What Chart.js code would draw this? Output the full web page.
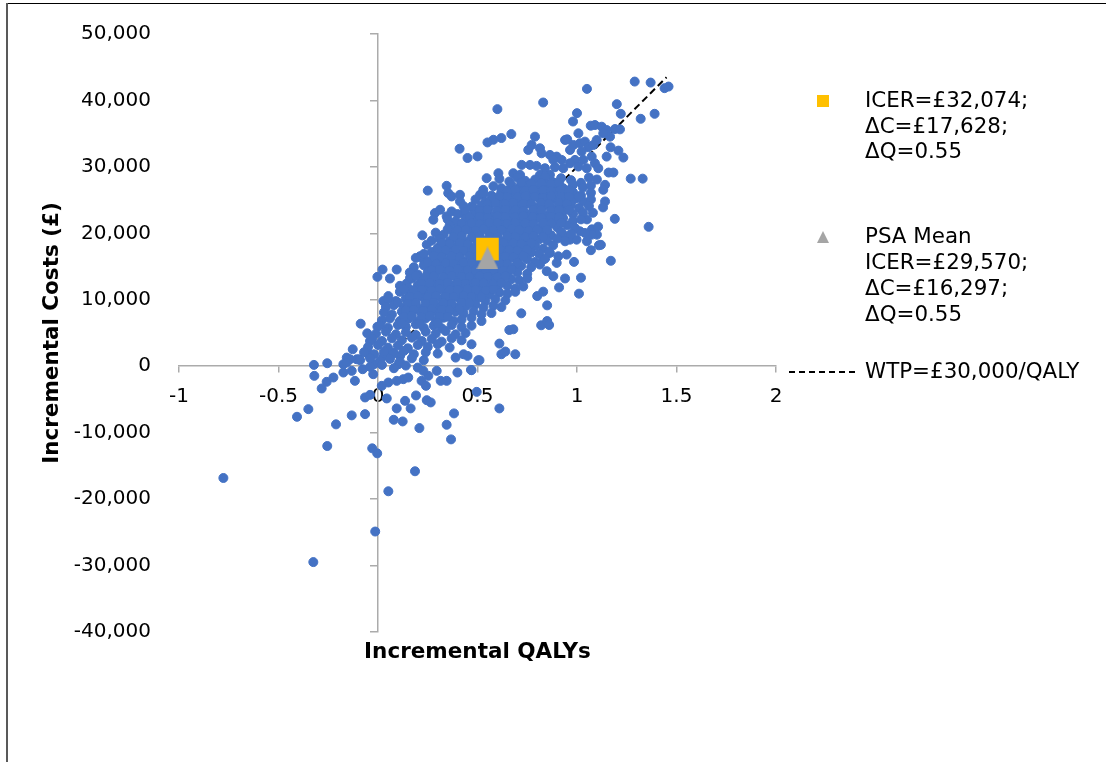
<!DOCTYPE html>
<html><head><meta charset="utf-8">
<script src="https://cdn.jsdelivr.net/npm/chart.js@4.4.1/dist/chart.umd.min.js"></script>
<style>
html,body{margin:0;padding:0;background:#fff;overflow:hidden;width:1106px;height:762px;}
#frameTop{position:absolute;left:6px;top:3px;width:1200px;height:1px;background:#000;}
#frameLeft{position:absolute;left:6px;top:3px;width:2px;height:900px;background:#595959;}
#wrap{position:absolute;left:0;top:0;width:1106px;height:762px;}
</style></head><body>
<div id="frameTop"></div><div id="frameLeft"></div>
<div id="wrap"><canvas id="c" width="1106" height="762"></canvas></div>
<script>
// ---- text ----
const xTitle = 'Incremental QALYs';
const yTitle = 'Incremental Costs (£)';
const icerLabel = ['ICER=£32,074;', 'ΔC=£17,628;', 'ΔQ=0.55'];
const psaMeanLabel = ['PSA Mean', 'ICER=£29,570;', 'ΔC=£16,297;', 'ΔQ=0.55'];
const wtpLabel = ['WTP=£30,000/QALY'];
// ---- axis ranges ----
const xRange = [-1, 2], xStep = 0.5;
const yRange = [-40000, 50000], yStep = 10000;
// ---- summary points ----
const icerQ = [0.55], icerC = [17628];
const psaMeanQ = [0.55], psaMeanC = [16297];
// ---- WTP threshold line ----
const wtpQ = [0, 1.45], wtpC = [0, 43500];
// ---- PSA iterations [incremental QALYs, incremental costs] ----
const psaPoints = [
[1.29,42840],[1.37,42690],[1.44,41850],[1.46,42090],[1.05,41740],[0.83,39690],[0.60,38690],[1.20,39440],[1.22,37990],[1.39,37990],[1.32,37240],[1.00,38090],[0.98,36830],[0.67,34940],[0.62,34340],[0.58,34080],[0.55,33680],[0.41,32730],[0.45,31340],[0.50,31580],[0.25,26430],[1.27,28230],[1.33,28230],[1.36,20980],[1.19,22180],[1.17,15870],[1.07,17460],[1.12,18270],[1.02,13320],[1.01,10920],[0.94,13210],[0.91,11860],[0.80,10560],[0.83,11220],[0.85,9160],[0.82,6160],[0.85,6800],[0.86,6200],[0.72,7960],[0.66,5450],[0.68,5560],[0.61,3410],[0.62,1800],[0.64,2210],[0.69,1800],[0.51,900],[0.47,-600],[0.43,1800],[0.45,1550],[0.39,1300],[0.47,3300],
[0.755,32550],[0.772,33300],[0.789,34550],[0.814,32800],[0.822,32050],[0.864,31800],[0.898,31550],[0.881,31050],[0.923,31050],[0.940,34050],[0.951,34150],[0.965,32550],[0.982,33300],[1.007,35050],[1.015,33550],[1.040,33800],[1.057,32950],[1.082,33300],[1.069,36200],[1.090,36300],[1.124,36050],[1.149,35550],[1.191,35700],[1.216,35650],[1.166,34550],[1.132,35050],[1.099,34050],[1.023,32300],[0.990,31050],[1.032,31050],[1.074,31550],[1.090,30550],[1.107,29800],[1.149,31550],[1.169,32950],[1.208,32450],[1.233,31400],[1.049,29800],[1.007,30050],[0.965,30550],[0.931,29800],[0.889,29950],[0.839,29800],[0.797,30150],[0.764,30300],[0.722,30300],[0.680,29050],[0.714,28800],[0.605,29050],[0.546,28300],[1.159,29150],[1.183,29150],[0.864,28800],[0.814,28800],
[1.08,23100],[1.05,22100],[1.075,20600],[1.106,21000],[1.10,19800],[1.05,18800],[1.11,18200],[1.141,27300],[1.132,26550],[1.141,24800],[1.131,23900],[1.074,19800],[0.985,15700],[0.948,16800],[0.848,14300],[0.881,13550],[0.898,15550],[0.906,16550],[0.864,17050],[0.831,16050],[0.814,15300],[0.931,19800],[0.965,19050],[0.998,19050],[1.015,20300],[1.040,20050],
[0.345,27150],[0.353,26050],[0.370,25550],[0.412,25800],[0.412,24800],[0.471,24050],[0.529,26550],[0.513,25800],[0.286,23050],[0.312,23550],[0.278,22050],[0.345,22550],[0.370,23300],[0.429,23050],[0.223,19700],[0.245,18300],[0.211,16550],[0.228,16050],
[0.023,14550],[0.094,14550],[-0.003,13450],[0.060,13200],[0.161,13300],[0.144,12450],[0.052,10550],[0.027,9800],[-0.087,6400],[-0.054,4950],[-0.003,5950],[-0.040,3800],[-0.049,1800],
[-0.777,-16820],[-0.325,-29480],[-0.014,-24880],[0.052,-18820],[0.186,-15810],[-0.255,-12010],[-0.029,-12360],[-0.004,-13110],[0.367,-11010],[0.345,-8810],[0.382,-7100],[0.208,-9310],[-0.211,-8750],[-0.407,-7610],[-0.350,-6460],[-0.132,-7400],[-0.065,-7210],[0.079,-8060],[0.124,-8310],[0.094,-6350],[0.164,-6350],[0.136,-5210],[0.245,-5110],[0.265,-5450],[0.191,-4400],[0.044,-4850],[-0.065,-4700],[-0.040,-4310],[0.496,-3860],[0.610,-6350],[-0.283,-3350],[-0.258,-2350],[-0.224,-1700],[-0.174,-950],[-0.132,-700],[-0.116,-2200],[-0.320,-1450],[-0.322,200],[-0.255,450],[-0.077,-450],[-0.024,-1200],[-0.020,300],[-0.044,1800],[-0.157,1300],[-0.141,1050],[-0.107,1050],[-0.094,1050],[-0.127,2550],[-0.174,300],[-0.157,550],[0.052,-2450],[0.094,-2200],[0.127,-1950],[0.152,-1700],[0.019,-2950],[0.219,-2200],[0.253,-1450],[0.295,-700],[0.315,-2200],[0.345,-2200],[0.399,-950],[0.467,-550],[0.504,900],[0.228,-700],[0.241,-2950],[0.102,300],[0.111,1550],[0.027,1550],[0.052,1800],[0.077,2050],
[0.61,28200],[0.66,27800],[0.70,28400],[0.74,27900],[0.79,28100],[0.84,28500],[0.88,27700],[0.92,28300],[0.97,28000],[1.02,27600],[1.06,28400],[1.10,28100],
[0.58,27100],[0.62,26800],[0.67,27300],[0.71,26900],[0.75,27200],[0.80,26700],[0.85,27400],[0.89,27000],[0.93,26800],[0.98,27300],[1.03,26900],[1.07,27200],
[0.53,26000],[0.57,25700],[0.62,26300],[0.66,25900],[0.71,26200],[0.76,25800],[0.80,26100],[0.84,25600],[0.89,26300],[0.94,25900],[0.98,26200],[1.02,25700],[1.07,26100],
[0.49,25100],[0.54,24800],[0.58,25300],[0.62,24900],[0.67,25200],[0.72,24700],[0.76,25000],[0.81,25300],[0.85,24800],[0.89,25100],[0.94,24900],[0.99,25200],[1.03,24800],[1.07,25100],
[0.43,24100],[0.48,23800],[0.52,24200],[0.56,23900],[0.61,24300],[0.66,23800],[0.70,24100],[0.74,24400],[0.79,23900],[0.84,24200],[0.88,23700],[0.92,24100],[0.97,24300],[1.01,23800],[1.06,24100],
[0.40,22900],[0.44,23200],[0.48,22800],[0.53,23100],[0.58,22700],[0.62,23200],[0.67,22900],[0.71,23300],[0.75,22800],[0.80,23100],[0.85,22700],[0.89,23000],[0.93,23300],[0.98,22900],[1.03,23100],
[0.35,22100],[0.39,21800],[0.44,22200],[0.48,21900],[0.53,22300],[0.57,21800],[0.62,22100],[0.66,21700],[0.71,22200],[0.75,21900],[0.80,22300],[0.84,21800],[0.89,22000],[0.93,22300],[0.98,21900],[1.02,22100],
[0.36,21200],[0.40,20800],[0.45,21100],[0.49,20700],[0.54,21200],[0.58,20900],[0.63,21300],[0.67,20800],[0.72,21000],[0.76,21300],[0.81,20800],[0.85,21100],[0.90,20900],[0.95,21200],[0.99,20800],
[0.29,20100],[0.33,19800],[0.38,20200],[0.42,19900],[0.47,20300],[0.51,19800],[0.56,20100],[0.60,19700],[0.65,20200],[0.69,19900],[0.74,20300],[0.78,19800],[0.83,20100],[0.87,19700],[0.92,20200],[0.97,19900],
[0.27,18900],[0.31,19200],[0.36,18800],[0.40,19100],[0.45,18700],[0.49,19200],[0.54,18900],[0.58,19300],[0.63,18800],[0.67,19000],[0.72,19300],[0.76,18800],[0.81,19100],[0.85,18900],[0.90,19200],[0.94,18800],
[0.30,17800],[0.34,18200],[0.38,17900],[0.43,18300],[0.47,17800],[0.52,18100],[0.56,17700],[0.61,18200],[0.65,17900],[0.70,18300],[0.74,17800],[0.79,18100],[0.83,17700],[0.88,18200],
[0.23,16900],[0.27,17200],[0.32,16800],[0.36,17100],[0.41,16700],[0.45,17200],[0.50,16900],[0.54,17300],[0.59,16800],[0.63,17000],[0.68,17300],[0.72,16800],[0.77,17100],[0.81,16900],[0.86,17200],
[0.19,16300],[0.25,15800],[0.30,16200],[0.34,15900],[0.39,16300],[0.43,15800],[0.48,16100],[0.52,15700],[0.57,16200],[0.61,15900],[0.66,16300],[0.70,15800],[0.75,16100],[0.79,15700],[0.84,16200],
[0.18,14900],[0.23,15200],[0.27,14800],[0.32,15100],[0.36,14700],[0.41,15200],[0.45,14900],[0.50,15300],[0.54,14800],[0.59,15000],[0.63,15300],[0.68,14800],[0.72,15100],[0.77,14900],
[0.16,14100],[0.20,13800],[0.25,14200],[0.29,13900],[0.34,14300],[0.38,13800],[0.43,14100],[0.47,13700],[0.52,14200],[0.56,13900],[0.61,14300],[0.65,13800],[0.70,14100],[0.75,13900],
[0.17,13200],[0.22,12800],[0.26,13100],[0.31,12700],[0.35,13200],[0.40,12900],[0.44,13300],[0.49,12800],[0.53,13000],[0.58,13300],[0.62,12800],[0.67,13100],[0.71,12900],[0.75,13200],
[0.11,12100],[0.15,11800],[0.20,12200],[0.24,11900],[0.29,12300],[0.33,11800],[0.38,12100],[0.42,11700],[0.47,12200],[0.51,11900],[0.56,12300],[0.60,11800],[0.65,12100],[0.69,11700],[0.73,12000],
[0.11,11200],[0.16,10800],[0.20,11100],[0.25,10700],[0.29,11200],[0.34,10900],[0.38,11300],[0.43,10800],[0.47,11000],[0.52,11300],[0.56,10800],[0.61,11100],[0.65,10900],[0.69,11200],
[0.05,10100],[0.09,9800],[0.14,10200],[0.18,9900],[0.23,10300],[0.27,9800],[0.32,10100],[0.36,9700],[0.41,10200],[0.45,9900],[0.50,10300],[0.54,9800],[0.59,10100],[0.64,9900],
[0.04,8900],[0.08,9200],[0.13,8800],[0.17,9100],[0.22,8700],[0.26,9200],[0.31,8900],[0.35,9300],[0.40,8800],[0.44,9000],[0.49,9300],[0.53,8800],[0.58,9100],[0.62,8900],
[0.03,8100],[0.07,7800],[0.12,8200],[0.16,7900],[0.21,8300],[0.25,7800],[0.30,8100],[0.34,7700],[0.39,8200],[0.43,7900],[0.48,8300],[0.52,7800],[0.57,8000],
[0.02,6900],[0.06,7200],[0.11,6800],[0.15,7100],[0.20,6700],[0.24,7200],[0.29,6900],[0.33,7300],[0.38,6800],[0.42,7000],[0.47,7300],[0.52,6800],
[0.01,6100],[0.05,5800],[0.10,6200],[0.14,5900],[0.19,6300],[0.23,5800],[0.28,6100],[0.32,5700],[0.37,6200],[0.42,5900],[0.47,6100],
[-0.01,4900],[0.04,5200],[0.09,4800],[0.14,5100],[0.19,4700],[0.24,5200],[0.29,4900],[0.34,5300],[0.39,4800],[0.44,5000],
[-0.03,4100],[0.02,3800],[0.07,4200],[0.12,3900],[0.17,4300],[0.22,3800],[0.27,4100],[0.32,3700],[0.37,4200],[0.42,3900],
[-0.05,2900],[0.00,3200],[0.05,2800],[0.10,3100],[0.15,2700],[0.20,3200],[0.25,2900],[0.30,3300],[0.36,2800],
[-0.07,2100],[-0.02,1800],[0.03,2200],[0.08,1900],[0.13,2300],[0.18,1800],[0.24,2100],[0.30,1900],
[-0.09,900],[-0.04,1200],[0.01,800],[0.06,1100],[0.11,700],[0.17,1200],[0.23,900],
[-0.04,-100],[0.02,200],[0.08,-300],[0.14,100],[0.20,-200],
[0.72,27650],[0.77,27500],[0.82,27550],[0.87,27450],[0.91,27650],
[0.65,26400],[0.69,26550],[0.74,26450],[0.78,26600],[0.83,26500],[0.87,26400],[0.92,26600],[0.96,26500],
[0.61,25600],[0.65,25500],[0.70,25450],[0.74,25600],[0.79,25500],[0.83,25400],[0.87,25600],[0.92,25450],[0.96,25550],[1.01,25500],
[0.55,24400],[0.59,24550],[0.64,24450],[0.68,24600],[0.73,24500],[0.77,24400],[0.82,24600],[0.86,24450],[0.91,24550],[0.95,24500],
[0.51,23450],[0.55,23550],[0.60,23400],[0.64,23600],[0.69,23500],[0.73,23450],[0.78,23600],[0.82,23500],[0.87,23400],[0.91,23550],[0.96,23500],
[0.46,22450],[0.51,22550],[0.55,22400],[0.60,22600],[0.64,22500],[0.69,22450],[0.73,22600],[0.78,22500],[0.82,22400],[0.87,22550],[0.91,22500],
[0.42,21450],[0.47,21550],[0.51,21400],[0.56,21600],[0.60,21500],[0.65,21450],[0.69,21600],[0.74,21500],[0.78,21400],[0.83,21550],[0.87,21500],[0.92,21600],
[0.35,20600],[0.40,20450],[0.44,20550],[0.49,20400],[0.53,20600],[0.58,20500],[0.62,20450],[0.67,20600],[0.71,20500],[0.76,20400],[0.80,20550],[0.85,20500],
[0.38,19450],[0.42,19550],[0.47,19400],[0.51,19600],[0.56,19500],[0.60,19450],[0.65,19600],[0.69,19500],[0.74,19400],[0.78,19550],[0.83,19500],
[0.32,18600],[0.36,18450],[0.41,18550],[0.45,18400],[0.50,18600],[0.54,18500],[0.59,18450],[0.63,18600],[0.68,18500],[0.72,18400],[0.77,18550],
[0.30,17600],[0.34,17450],[0.39,17550],[0.43,17400],[0.48,17600],[0.52,17500],[0.57,17450],[0.61,17600],[0.66,17500],[0.70,17400],[0.75,17550],
[0.28,16600],[0.32,16450],[0.37,16550],[0.41,16400],[0.46,16600],[0.50,16500],[0.55,16450],[0.59,16600],[0.64,16500],[0.68,16400],[0.73,16550],
[0.25,15600],[0.29,15450],[0.34,15550],[0.38,15400],[0.43,15600],[0.47,15500],[0.52,15450],[0.56,15600],[0.61,15500],[0.65,15400],[0.70,15550],
[0.27,14450],[0.31,14550],[0.36,14400],[0.40,14600],[0.45,14500],[0.49,14450],[0.54,14600],[0.58,14500],[0.63,14400],[0.67,14550],
[0.19,13600],[0.24,13450],[0.28,13550],[0.33,13400],[0.37,13600],[0.42,13500],[0.46,13450],[0.51,13600],[0.55,13500],[0.60,13400],[0.64,13550],
[0.22,12450],[0.26,12550],[0.31,12400],[0.35,12600],[0.40,12500],[0.44,12450],[0.49,12600],[0.53,12500],[0.58,12400],[0.62,12550],
[0.13,11600],[0.18,11450],[0.22,11550],[0.27,11400],[0.31,11600],[0.36,11500],[0.40,11450],[0.45,11600],[0.49,11500],[0.54,11400],[0.58,11550],
[0.16,10450],[0.20,10550],[0.25,10400],[0.29,10600],[0.34,10500],[0.38,10450],[0.43,10600],[0.47,10500],[0.52,10400],
[0.10,9600],[0.15,9450],[0.19,9550],[0.24,9400],[0.28,9600],[0.33,9500],[0.37,9450],[0.42,9600],[0.46,9500],
[0.14,8450],[0.18,8550],[0.23,8400],[0.27,8600],[0.32,8500],[0.36,8450],[0.41,8600],
[0.13,7450],[0.17,7550],[0.22,7400],[0.26,7600],[0.31,7500],[0.35,7450],
[0.12,6450],[0.21,6400],[0.30,6500]
];

// ---- styling ----
const FONT = 'DejaVu Sans';
const AXIS_GREY = '#ABABAB';
const COL_PSA = '#4472C4', COL_ICER = '#FFC000', COL_MEAN = '#A5A5A5';

function makeTri(w, h, color) {
  const c = document.createElement('canvas'); c.width = w; c.height = h;
  const g = c.getContext('2d'); g.fillStyle = color;
  g.beginPath(); g.moveTo(w / 2, 0); g.lineTo(w, h); g.lineTo(0, h); g.closePath(); g.fill();
  return c;
}
const triMarker = makeTri(22, 23, COL_MEAN);

const sideLegend = {
  id: 'sideLegend',
  afterDraw(chart) {
    const ctx = chart.ctx;
    ctx.save();
    ctx.font = '21.4px "' + FONT + '"';
    ctx.fillStyle = '#000';
    ctx.textAlign = 'left';
    ctx.textBaseline = 'middle';
    const tx = 865, step = 26;
    const ds = chart.data.datasets;
    // ICER item
    ctx.fillStyle = ds[0].backgroundColor;
    ctx.fillRect(817, 95, 12, 12);
    ctx.fillStyle = '#000';
    ds[0].label.split('\n').forEach((t, i) => ctx.fillText(t, tx, 101.5 + i * 25.5));
    // PSA mean item
    ctx.fillStyle = ds[1].backgroundColor;
    ctx.beginPath(); ctx.moveTo(823, 231); ctx.lineTo(829, 243); ctx.lineTo(817, 243); ctx.closePath(); ctx.fill();
    ctx.fillStyle = '#000';
    ds[1].label.split('\n').forEach((t, i) => ctx.fillText(t, tx, 237 + i * step));
    // WTP item
    ctx.strokeStyle = ds[3].borderColor; ctx.lineWidth = 2; ctx.setLineDash([6, 4]);
    ctx.beginPath(); ctx.moveTo(789, 372); ctx.lineTo(858, 372); ctx.stroke();
    ctx.setLineDash([]);
    ds[3].label.split('\n').forEach((t, i) => ctx.fillText(t, tx, 372 + i * step));
    // x axis title
    const a = chart.chartArea;
    ctx.font = 'bold 21.5px "' + FONT + '"';
    ctx.textAlign = 'center';
    ctx.fillText(xTitle, (a.left + a.right) / 2, a.bottom + 20.5);
    ctx.restore();
  }
};

const toXY = (qs, cs) => qs.map((q, i) => ({x: q, y: cs[i]}));

new Chart(document.getElementById('c'), {
  type: 'scatter',
  data: {
    datasets: [
      {label: icerLabel.join('\n'), data: toXY(icerQ, icerC), pointStyle: 'rect', pointRadius: 16,
       backgroundColor: COL_ICER, borderWidth: 0, order: 1},
      {label: psaMeanLabel.join('\n'), data: toXY(psaMeanQ, psaMeanC), pointStyle: triMarker, pointRadius: 12,
       backgroundColor: COL_MEAN, borderWidth: 0, order: 0},
      {label: 'PSA', data: psaPoints.map(p => ({x: p[0], y: p[1]})), pointStyle: 'circle', pointRadius: 4.5,
       backgroundColor: COL_PSA, borderColor: COL_PSA, borderWidth: 1, order: 2},
      {type: 'line', label: wtpLabel.join('\n'), data: toXY(wtpQ, wtpC), borderColor: '#000', borderWidth: 2,
       borderDash: [7, 4], pointRadius: 0, fill: false, order: 3}
    ]
  },
  options: {
    responsive: false, animation: false, events: [], devicePixelRatio: 1,
    layout: {padding: {left: 0, right: 330, top: 34, bottom: 130}},
    plugins: {legend: {display: false}, tooltip: {enabled: false}},
    scales: {
      x: {type: 'linear', axis: 'x', position: {y: 0}, min: xRange[0], max: xRange[1],
          ticks: {stepSize: xStep, font: {family: FONT, size: 20}, color: '#000', padding: 13, maxRotation: 0, autoSkip: false,
                  callback: v => String(v)},
          grid: {drawOnChartArea: false, drawTicks: true, tickLength: 6, color: AXIS_GREY, lineWidth: 1.5},
          border: {display: true, color: AXIS_GREY, width: 1.5}},
      y: {type: 'linear', axis: 'y', position: 'left', min: yRange[0], max: yRange[1],
          ticks: {stepSize: yStep, font: {family: FONT, size: 20}, color: '#000', padding: 0},
          grid: {display: false, drawTicks: true, tickLength: 28},
          border: {display: false},
          title: {display: true, text: yTitle, color: '#000', font: {family: FONT, size: 21.5, weight: 'bold'}, padding: {top: 40, bottom: 0}},
          afterFit(s) { s.width = 179; }},
      y0: {type: 'linear', axis: 'y', position: {x: 0}, min: yRange[0], max: yRange[1],
          ticks: {display: false, stepSize: yStep},
          grid: {drawOnChartArea: false, drawTicks: true, tickLength: 7, color: AXIS_GREY, lineWidth: 1.5},
          border: {display: true, color: AXIS_GREY, width: 1.5}}
    }
  },
  plugins: [sideLegend]
});
</script>
</body></html>
